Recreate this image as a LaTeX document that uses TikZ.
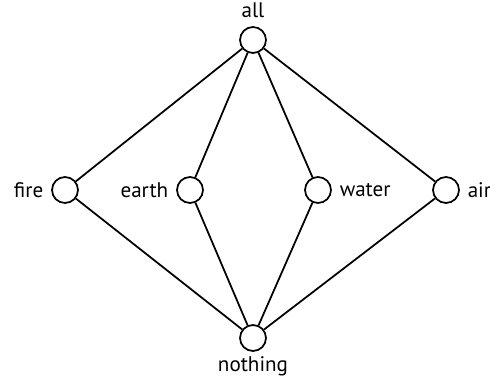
\documentclass[tikz,border=0pt]{standalone}
\usepackage{fontspec}
\setmainfont{PT Sans}
\begin{document}
\begin{tikzpicture}[
x=0.02cm, y=-0.02cm,
line width=1pt,
element/.style={circle, draw, line width=1pt, minimum size=0.52cm, inner sep=0pt},
every label/.style={font=\fontsize{12}{14}\selectfont, inner sep=2pt},
label distance=2pt
]
\useasboundingbox (0,0) rectangle (490,378);
\node[element, label=above:all] (all) at (253,40) {};
\node[element, label=left:fire] (fire) at (65,190) {};
\node[element, label=left:earth] (earth) at (190,190) {};
\node[element, label=right:water] (water) at (318,190) {};
\node[element, label=right:air] (air) at (446,190) {};
\node[element, label={[label distance=0pt]below:nothing}] (nothing) at (253,338) {};
\draw (all) -- (fire) -- (nothing);
\draw (all) -- (earth) -- (nothing);
\draw (all) -- (water) -- (nothing);
\draw (all) -- (air) -- (nothing);
\end{tikzpicture}
\end{document}
